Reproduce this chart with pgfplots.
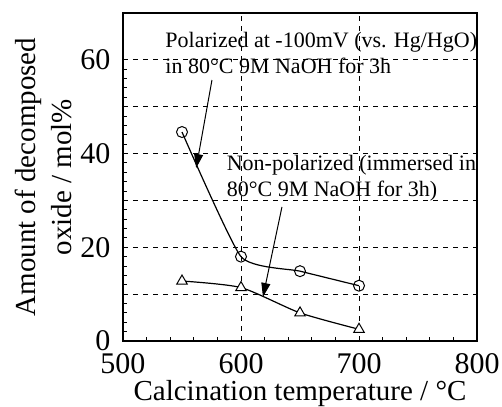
\documentclass[border=0pt]{standalone}
\usepackage{fontspec}
\setmainfont{Liberation Serif}
\usepackage{pgfplots}
\pgfplotsset{compat=1.18}
\usetikzlibrary{arrows.meta}

\begin{document}
\begin{tikzpicture}
\begin{axis}[
    scale only axis,
    width=354pt, height=328pt,
    xmin=500, xmax=800,
    ymin=0, ymax=70,
    xtick={500,600,700,800},
    ytick={0,10,...,60},
    yticklabels={0,,20,,40,,60},
    minor tick num=4,
    tick align=inside,
    xtick pos=bottom, ytick pos=left,
    major tick length=4pt, minor tick length=4pt,
    tick style={black, line width=1pt},
    axis line style={line width=1.3pt},
    grid=major,
    grid style={black, dashed, line width=0.8pt, dash pattern=on 5pt off 5pt},
    /pgf/number format/assume math mode=true,
    ticklabel style={font=\fontsize{30}{36}\selectfont},
    xticklabel style={yshift=-9pt},
    yticklabel style={xshift=-9pt},
    xlabel={Calcination temperature / °C},
    ylabel={Amount of decomposed\\oxide / mol\%},
    label style={font=\fontsize{29}{36}\selectfont, align=center},
    xlabel style={yshift=0pt},
    ylabel style={yshift=2pt},
    clip=false,
]

% polarized (circles)
\addplot[black, line width=1.2pt, smooth, tension=0.3, mark=o, mark size=5.5pt,
    mark options={fill=white, line width=1pt}]
    coordinates {(550,44.6) (600,18.0) (650,14.9) (700,11.8)};

% non-polarized (triangles)
\addplot[black, line width=1.2pt, smooth, tension=0.4, mark=triangle*, mark size=6pt,
    mark options={fill=white, line width=1pt}]
    coordinates {(550,12.8) (600,11.4) (650,6.0) (700,2.5)};

\node[anchor=base west, font=\fontsize{22}{26}\selectfont]
    at (axis cs:533,62.7) {Polarized at -100mV (vs. Hg/HgO)};
\node[anchor=base west, font=\fontsize{22}{26}\selectfont]
    at (axis cs:533,57.0) {in 80°C 9M NaOH for 3h};
\node[anchor=base west, font=\fontsize{22}{26}\selectfont]
    at (axis cs:585,36.3) {Non-polarized (immersed in};
\node[anchor=base west, font=\fontsize{22}{26}\selectfont]
    at (axis cs:585,30.9) {80°C 9M NaOH for 3h)};

\draw[line width=1pt, -{Triangle[length=14pt, width=9pt]}]
    (axis cs:575.4,55.7) -- (axis cs:562,36.9);
\draw[line width=1pt, -{Triangle[length=14pt, width=9pt]}]
    (axis cs:634.7,28.6) -- (axis cs:618.6,9.4);
\end{axis}
\pgfresetboundingbox
\path[use as bounding box] (-123pt,-65pt) rectangle (379pt,341pt);
\end{tikzpicture}
\end{document}
